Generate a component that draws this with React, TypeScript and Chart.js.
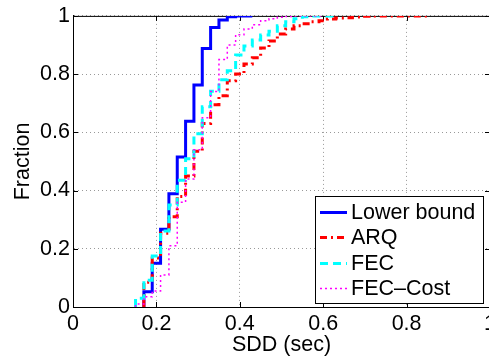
import React, { useEffect, useRef } from 'react';
import { Chart, registerables } from 'chart.js';

Chart.register(...registerables);

// ---- data ----
const xTicks = [0, 0.2, 0.4, 0.6, 0.8, 1];
const xTickLabels = ['0', '0.2', '0.4', '0.6', '0.8', '1'];
const yTicks = [0, 0.2, 0.4, 0.6, 0.8, 1];
const yTickLabels = ['0', '0.2', '0.4', '0.6', '0.8', '1'];

const seriesLabels = ['Lower bound', 'ARQ', 'FEC', 'FEC\u2013Cost'];

const lowerX = [0.17, 0.17, 0.19, 0.21, 0.23, 0.25, 0.27, 0.29, 0.31, 0.33, 0.35, 0.37, 0.39, 0.43];
const lowerY = [0, 0.052, 0.15, 0.267, 0.389, 0.515, 0.638, 0.763, 0.888, 0.96, 0.986, 0.997, 1, 1];

const arqX = [0.17, 0.17, 0.19, 0.21, 0.23, 0.25, 0.27, 0.29, 0.31, 0.33, 0.35, 0.37, 0.39, 0.41, 0.43, 0.45, 0.47, 0.49, 0.51, 0.53, 0.55, 0.57, 0.59, 0.61, 0.63, 0.65, 0.67, 0.69, 0.71, 0.85];
const arqY = [0, 0.085, 0.168, 0.253, 0.31, 0.38, 0.45, 0.535, 0.63, 0.695, 0.726, 0.777, 0.8, 0.835, 0.856, 0.89, 0.914, 0.938, 0.955, 0.966, 0.973, 0.98, 0.983, 0.989, 0.993, 0.994, 0.996, 0.999, 1, 1];

const fecX = [0.15, 0.15, 0.17, 0.19, 0.21, 0.23, 0.25, 0.27, 0.29, 0.31, 0.33, 0.35, 0.37, 0.39, 0.41, 0.43, 0.45, 0.47, 0.49, 0.51, 0.53, 0.55, 0.57, 0.63];
const fecY = [0, 0.03, 0.092, 0.175, 0.261, 0.35, 0.435, 0.509, 0.595, 0.688, 0.741, 0.781, 0.812, 0.866, 0.897, 0.917, 0.934, 0.947, 0.966, 0.98, 0.99, 0.997, 1, 1];

const costX = [0.15, 0.15, 0.17, 0.19, 0.21, 0.23, 0.25, 0.27, 0.29, 0.31, 0.33, 0.35, 0.37, 0.39, 0.41, 0.43, 0.45, 0.47, 0.49, 0.51, 0.53, 0.6];
const costY = [0, 0.01, 0.035, 0.055, 0.11, 0.21, 0.36, 0.44, 0.54, 0.65, 0.74, 0.85, 0.9, 0.935, 0.955, 0.97, 0.983, 0.99, 0.995, 0.998, 1, 1];

const FONT = '"Liberation Sans", Arial, Helvetica, sans-serif';

const styles = [
  { color: 'rgb(0,0,255)', width: 3, dash: [] as number[] },
  { color: 'rgb(255,0,0)', width: 3, dash: [7, 4, 2, 4] },
  { color: 'rgb(0,255,255)', width: 3, dash: [8, 5] },
  { color: 'rgb(255,0,255)', width: 1.5, dash: [2, 3] },
];

const toPts = (xs: number[], ys: number[]) => xs.map((x, i) => ({ x, y: ys[i] }));

const framePlugin = {
  id: 'frame',
  beforeDatasetsDraw(chart: any) {
    const { ctx, chartArea: a, scales } = chart;
    ctx.save();
    ctx.strokeStyle = '#000';
    ctx.lineWidth = 1;
    ctx.setLineDash([]);
    ctx.beginPath();
    ctx.moveTo(a.left, a.top + 0.5);
    ctx.lineTo(a.right, a.top + 0.5);
    ctx.moveTo(a.right - 0.5, a.top);
    ctx.lineTo(a.right - 0.5, a.bottom);
    const tl = 5;
    scales.x.ticks.forEach((t: any) => {
      const px = Math.round(scales.x.getPixelForValue(t.value)) + 0.5;
      ctx.moveTo(px, a.bottom);
      ctx.lineTo(px, a.bottom - tl);
      ctx.moveTo(px, a.top);
      ctx.lineTo(px, a.top + tl);
    });
    scales.y.ticks.forEach((t: any) => {
      const py = Math.round(scales.y.getPixelForValue(t.value)) + 0.5;
      ctx.moveTo(a.left, py);
      ctx.lineTo(a.left + tl, py);
      ctx.moveTo(a.right, py);
      ctx.lineTo(a.right - tl, py);
    });
    ctx.stroke();
    ctx.restore();
  },
};

const legendPlugin = {
  id: 'boxLegend',
  afterDraw(chart: any) {
    const { ctx, chartArea: a } = chart;
    const w = 168;
    const h = 107;
    const right = a.right - 7;
    const bottom = a.bottom - 4;
    const left = right - w;
    const top = bottom - h;
    ctx.save();
    ctx.fillStyle = '#fff';
    ctx.fillRect(left, top, w, h);
    ctx.strokeStyle = '#000';
    ctx.lineWidth = 1;
    ctx.setLineDash([]);
    ctx.strokeRect(left + 0.5, top + 0.5, w, h);
    ctx.font = `21.5px ${FONT}`;
    ctx.textBaseline = 'middle';
    ctx.textAlign = 'left';
    chart.data.datasets.forEach((ds: any, i: number) => {
      const y = Math.round(top + 15.5 + i * 25.5) + 0.5;
      const s = styles[i];
      ctx.strokeStyle = s.color;
      ctx.lineWidth = s.width;
      ctx.setLineDash(s.dash);
      ctx.beginPath();
      ctx.moveTo(left + 5, y);
      ctx.lineTo(left + 32, y);
      ctx.stroke();
      ctx.fillStyle = '#000';
      ctx.fillText(ds.label, left + 36, y + 1);
    });
    ctx.restore();
  },
};

export default function App() {
  const ref = useRef<HTMLCanvasElement | null>(null);

  useEffect(() => {
    if (!ref.current) return;
    const seriesX = [lowerX, arqX, fecX, costX];
    const seriesY = [lowerY, arqY, fecY, costY];
    const datasets = seriesLabels.map((label, i) => ({
      label,
      data: toPts(seriesX[i], seriesY[i]),
      stepped: 'before' as const,
      borderColor: styles[i].color,
      borderWidth: styles[i].width,
      borderDash: styles[i].dash,
      pointRadius: 0,
      fill: false,
      tension: 0,
      order: 3 - i,
    }));
    const chart = new Chart(ref.current, {
      type: 'line',
      data: { datasets },
      options: {
        animation: false,
        responsive: false,
        devicePixelRatio: 1,
        layout: { padding: { top: 15, right: 10, bottom: 0, left: 0 } },
        plugins: { legend: { display: false }, tooltip: { enabled: false } },
        scales: {
          x: {
            type: 'linear',
            min: 0,
            max: 1,
            afterBuildTicks: (s: any) => {
              s.ticks = xTicks.map((v) => ({ value: v }));
            },
            afterFit: (s: any) => {
              s.height = 53;
            },
            ticks: {
              callback: (_v: any, i: number) => xTickLabels[i],
              color: '#000',
              font: { family: FONT, size: 21.5 },
              padding: 4,
              maxRotation: 0,
              autoSkip: false,
            },
            grid: { color: '#999', lineWidth: 1, drawTicks: false },
            border: { display: true, color: '#000', width: 1, dash: [1, 3] },
            title: {
              display: true,
              text: 'SDD (sec)',
              color: '#000',
              font: { family: FONT, size: 21.5 },
              padding: { top: 0, bottom: 2 },
            },
          },
          y: {
            type: 'linear',
            min: 0,
            max: 1,
            afterBuildTicks: (s: any) => {
              s.ticks = yTicks.map((v) => ({ value: v }));
            },
            afterFit: (s: any) => {
              s.width = 73;
            },
            ticks: {
              callback: (_v: any, i: number) => yTickLabels[i],
              color: '#000',
              font: { family: FONT, size: 21.5 },
              padding: 3,
              autoSkip: false,
            },
            grid: { color: '#999', lineWidth: 1, drawTicks: false },
            border: { display: true, color: '#000', width: 1, dash: [1, 3] },
            title: {
              display: true,
              text: 'Fraction',
              color: '#000',
              font: { family: FONT, size: 21.5 },
              padding: { top: 10, bottom: 0 },
            },
          },
        },
      },
      plugins: [framePlugin, legendPlugin],
    });
    return () => chart.destroy();
  }, []);

  return (
    <div
      style={{
        position: 'fixed',
        left: 0,
        top: 0,
        width: 489,
        height: 360,
        overflow: 'hidden',
        background: '#fff',
      }}
    >
      <canvas ref={ref} width={500} height={360} style={{ display: 'block' }} />
    </div>
  );
}
